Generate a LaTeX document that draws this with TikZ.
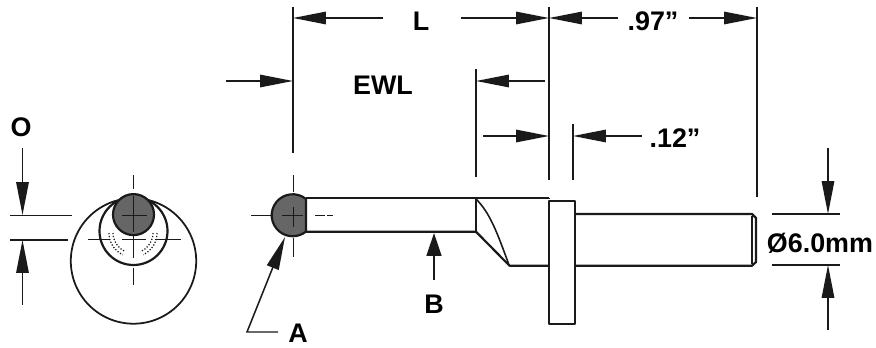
\documentclass[tikz,border=0pt]{standalone}
\usepackage{fontspec}
\setmainfont{Liberation Sans}
\definecolor{pin_line}{RGB}{26, 26, 26}
\definecolor{pin_gray}{RGB}{102, 102, 102}
\usetikzlibrary{arrows.meta, positioning}

\begin{document}
\begin{tikzpicture}[x=0.02cm, y=-0.02cm,
        lbl/.style={font=\fontsize{15.3}{17}\selectfont\bfseries, inner sep=0pt, text=black},
        outl/.style={draw=pin_line, line width=1.25pt, line join=round},
        hair/.style={draw=pin_line, line width=0.55pt},
        extl/.style={draw=pin_line, line width=0.85pt},
        dotl/.style={draw=pin_line, line width=0.7pt, densely dotted},
        arr/.style={draw=pin_line, line width=0.85pt,
                    -{Triangle[length=0.66cm, width=0.25cm]}},
        arrb/.style={draw=pin_line, line width=0.85pt,
                    -{Triangle[length=0.46cm, width=0.3cm]}},
      ]
        \useasboundingbox (0,0) rectangle (876,348);

        % labels
        \node[lbl] (lblO) at (21,127) {O};
        \node[lbl] (lblL) at (421,21) {L};
        \node[lbl] (lblNine) at (653,21) {.97”};
        \node[lbl] (lblEwl) at (383,85) {EWL};
        \node[lbl] (lblTwelve) at (675,138) {.12”};
        \node[lbl] (lblDia) at (820,243) {Ø6.0mm};
        \node[lbl] (lblA) at (298,333) {A};
        \node[lbl] (lblB) at (434,304) {B};

        % end view
        \draw[line width=1pt, draw=pin_line] (133.5,261) circle [radius=62.7];
        \draw[outl] (133.5,231) circle [radius=34];
        \foreach \r in {20,24} {
          \draw[dotl] (133,233) ++(180:\r) arc [start angle=180, end angle=115, radius=\r];
          \draw[dotl] (133,233) ++(0:\r) arc [start angle=0, end angle=65, radius=\r];
        }
        \draw[hair] (133.5,175) -- (133.5,189);
        \draw[hair] (133.5,236) -- (133.5,258);
        \draw[hair] (133.5,268) -- (133.5,285);
        \draw[hair] (88,239) -- (110,239);
        \draw[hair] (122,239) -- (146,239);
        \draw[hair] (155,239) -- (181,239);
        \draw[outl, fill=pin_gray] (133.5,214.6) circle [radius=20.5];
        \draw[hair] (122,215) -- (147,215);
        \draw[hair] (133.5,196) -- (133.5,232);

        % side view
        \draw[outl, fill=pin_gray] (306,199) arc [start angle=-50.7, end angle=-309.3, radius=21] -- cycle;
        \draw[hair] (282,215) -- (303,215);
        \draw[hair] (293,207) -- (293,227);
        \draw[hair] (293,175) -- (293,192);
        \draw[hair] (293,238) -- (293,257);
        \draw[hair] (251,215.5) -- (271,215.5);
        \draw[hair] (315,215.5) -- (325,215.5);
        \draw[hair] (327,215.5) -- (333,215.5);
        \draw[outl] (306,198.3) -- (549,198.3);
        \draw[outl] (306,231.7) -- (476,231.7) -- (509.5,265.7) -- (549,265.7);
        \draw[outl] (476,198.3) -- (476,231.7);
        \draw[draw=pin_line, line width=0.9pt] (476,199) .. controls (490,213) and (497,232) .. (509,265);
        \draw[outl] (549,201) rectangle (574.7,324.3);
        \draw[dotl] (549,198) -- (549,266);
        \draw[outl] (575,214) -- (752,214) -- (756,218) -- (756,262) -- (752,265.7) -- (575,265.7);
        \draw[extl] (752,216) -- (752,264);

        % extension lines
        \draw[extl] (293,7) -- (293,153);
        \draw[extl] (476,69) -- (476,177);
        \draw[extl] (549,7) -- (549,180);
        \draw[extl] (573,124) -- (573,180);
        \draw[extl] (757,7) -- (757,197);
        \draw[extl] (10,215.5) -- (72,215.5);
        \draw[extl] (10,240) -- (68,240);
        \draw[extl] (772,214) -- (840,214);
        \draw[extl] (772,265) -- (840,265);

        % dimension arrows
        \coordinate (lTail) at (383,18);
        \coordinate (lTip) at (293,18);
        \coordinate (rTail) at (461,18);
        \coordinate (rTip) at (549,18);
        \coordinate (nTail) at (618,18);
        \coordinate (nTip) at (549,18);
        \coordinate (mTail) at (689,18);
        \coordinate (mTip) at (757,18);
        \draw[arr] (lTail) -- (lTip);
        \draw[arr] (rTail) -- (rTip);
        \draw[arr] (nTail) -- (nTip);
        \draw[arr] (mTail) -- (mTip);

        \coordinate (eTail) at (226,81);
        \coordinate (eTip) at (293,81);
        \coordinate (fTail) at (545,81);
        \coordinate (fTip) at (476,81);
        \coordinate (gTail) at (483,136);
        \coordinate (gTip) at (549,136);
        \coordinate (hTail) at (642,136);
        \coordinate (hTip) at (573,136);
        \draw[arr] (eTail) -- (eTip);
        \draw[arr] (fTail) -- (fTip);
        \draw[arr] (gTail) -- (gTip);
        \draw[arr] (hTail) -- (hTip);

        \coordinate (oTail) at (22.5,148);
        \coordinate (oTip) at (22.5,215);
        \coordinate (pTail) at (22.5,305);
        \coordinate (pTip) at (22.5,240);
        \draw[arr] (oTail) -- (oTip);
        \draw[arr] (pTail) -- (pTip);

        \coordinate (dTail) at (828,148);
        \coordinate (dTip) at (828,214);
        \coordinate (qTail) at (828,330);
        \coordinate (qTip) at (828,265);
        \draw[arr] (dTail) -- (dTip);
        \draw[arr] (qTail) -- (qTip);

        % leaders
        \coordinate (bTail) at (434,280);
        \coordinate (bTip) at (434,233);
        \draw[arrb] (bTail) -- (bTip);

        \coordinate (aFoot) at (278,332);
        \coordinate (aBend) at (247,332);
        \coordinate (aTip) at (285,237);
        \draw[arr] (aFoot) -- (aBend) -- (aTip);
      \end{tikzpicture}
\end{document}
